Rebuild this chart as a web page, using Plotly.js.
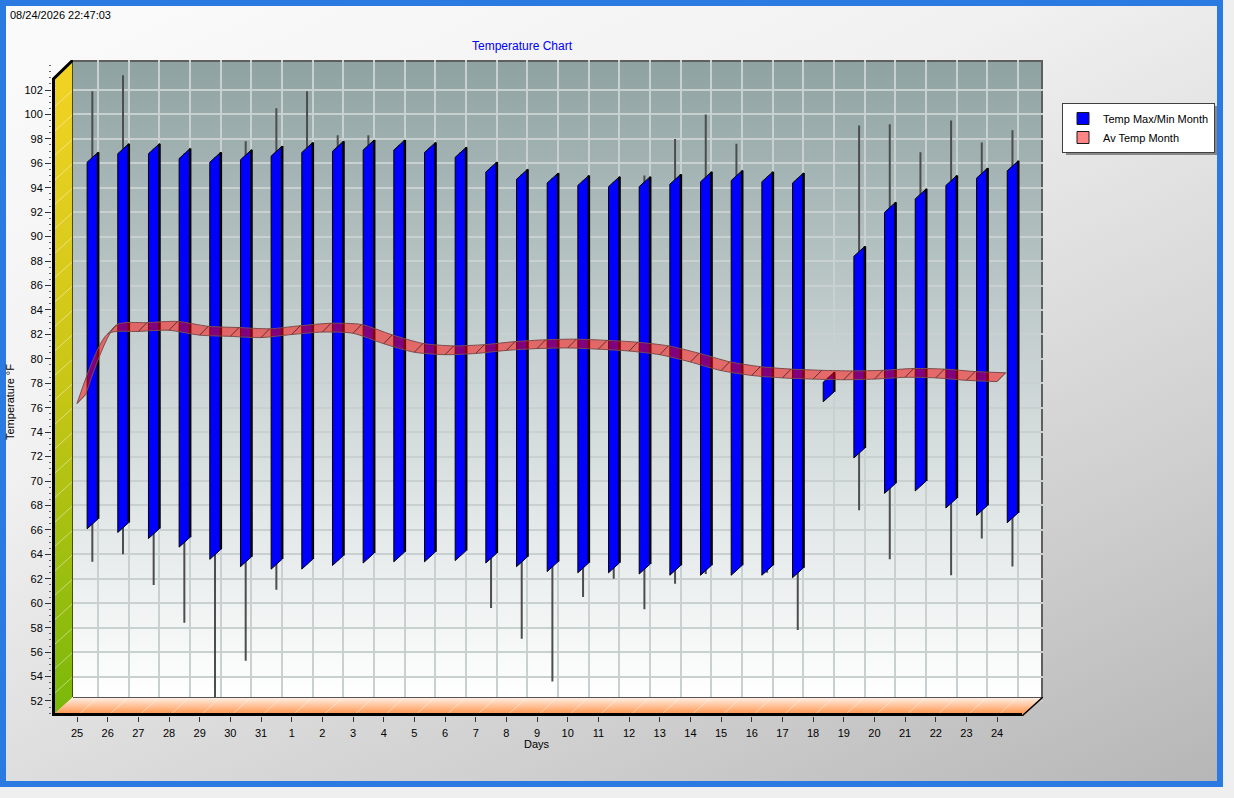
<!DOCTYPE html>
<html>
<head>
<meta charset="utf-8">
<script src="https://cdn.plot.ly/plotly-3.0.1.min.js"></script>
<style>
  body { margin: 0; background: #efefef; }
  #frame {
    position: absolute; left: 0; top: 0; width: 1211px; height: 775px;
    border: 6px solid #2a7ae2;
    background: linear-gradient(155deg, #fbfbfb 0%, #f1f1f1 35%, #cfcfcf 75%, #b6b6b6 100%);
  }
  #chart { position: absolute; left: 0; top: 0; width: 1234px; height: 798px; }
</style>
</head>
<body>
<div id="frame"></div>
<div id="chart"></div>
<script>
// days of the month window, oldest first
const days = ['25', '26', '27', '28', '29', '30', '31', '1', '2', '3', '4', '5', '6', '7', '8',
    '9', '10', '11', '12', '13', '14', '15', '16', '17', '18', '19', '20', '21', '22', '23', '24'];

// bar = monthly max / min, whisker = extreme max / min
const barMax = [96.5, 97.2, 97.2, 96.8, 96.5, 96.7, 97.0, 97.3, 97.4, 97.5, 97.5, 97.3, 96.9, 95.7, 95.1,
    94.8, 94.6, 94.5, 94.5, 94.7, 94.9, 95.0, 94.9, 94.8, 78.5, 88.8, 92.4, 93.5, 94.6, 95.2, 95.8];
const barMin = [66.5, 66.2, 65.7, 65.0, 64.0, 63.4, 63.2, 63.2, 63.5, 63.7, 63.8, 63.8, 63.9, 63.7, 63.4,
    63.0, 62.9, 62.9, 62.8, 62.7, 62.7, 62.7, 62.7, 62.5, 76.9, 72.3, 69.4, 69.6, 68.2, 67.6, 67.0];
const extMax = [101.9, 103.2, 97.2, 96.8, 96.5, 97.8, 100.5, 101.9, 98.3, 98.3, 97.5, 97.3, 96.9, 95.7, 95.1,
    94.8, 94.6, 94.5, 95.0, 98.0, 100.0, 97.6, 94.9, 94.8, 78.5, 99.1, 99.2, 96.9, 99.5, 97.7, 98.7];
const extMin = [63.4, 64.0, 61.5, 58.4, 52.3, 55.3, 61.1, 63.2, 63.5, 63.7, 63.8, 63.8, 63.9, 59.6, 57.1,
    53.6, 60.5, 62.0, 59.5, 61.6, 62.4, 62.7, 62.5, 57.8, 76.9, 67.6, 63.6, 69.6, 62.3, 65.3, 63.0];
const avgTemp = [76.7, 82.4, 82.6, 82.7, 82.3, 82.2, 82.1, 82.35, 82.55, 82.45, 81.6, 80.9, 80.7, 80.8, 81.05,
    81.2, 81.25, 81.15, 81.0, 80.7, 80.1, 79.4, 79.0, 78.8, 78.7, 78.65, 78.7, 78.85, 78.8, 78.6, 78.5];
const yTicks = [52, 54, 56, 58, 60, 62, 64, 66, 68, 70, 72, 74, 76, 78, 80, 82, 84, 86, 88, 90,
    92, 94, 96, 98, 100, 102];

// plot box in pixels (front-left corner to back-right), and the fake 3d depth
const L = 52, R = 1043, T = 60, B = 716;
const W = R - L, H = B - T;
const DEPTH_X = 21, DEPTH_Y = 19;
const X_RANGE = [-0.815, 31.496];
const Y_RANGE = [50.772, 104.455];

const xPx = (u) => L + (u - X_RANGE[0]) / (X_RANGE[1] - X_RANGE[0]) * W;
const yPx = (v) => T + (Y_RANGE[1] - v) / (Y_RANGE[1] - Y_RANGE[0]) * H;
const idx = days.map((d, i) => i);
const backGrid = idx.map(i => i + 0.685);

// bars are thin slanted panels
const BAR_L = 0.33, BAR_R = 0.69, BAR_SLANT = 0.41;
const barX = [], barY = [], edgeX = [], edgeY = [], whiskX = [], whiskY = [];
idx.forEach(i => {
    const xl = i + BAR_L, xr = i + BAR_R;
    barX.push(xl, xr, xr, xl, xl, null);
    barY.push(barMin[i] - BAR_SLANT, barMin[i] + BAR_SLANT, barMax[i] + BAR_SLANT,
        barMax[i] - BAR_SLANT, barMin[i] - BAR_SLANT, null);
    edgeX.push(xr, xr, null);
    edgeY.push(barMin[i] + BAR_SLANT, barMax[i] + BAR_SLANT, null);
    whiskX.push(i + 0.5, i + 0.5, null);
    whiskY.push(extMin[i], extMax[i], null);
});

// average as a ribbon: front edge and back edge
const AV_DX = 0.28, AV_DY = 0.36;
const avFrontX = idx.slice();
const avFrontY = avgTemp.map(v => v - AV_DY);
const avBackX = idx.map(i => i + AV_DX);
const avBackY = avgTemp.map(v => v + AV_DY);
const slantX = [], slantY = [];
idx.forEach(i => {
    slantX.push(avFrontX[i], avBackX[i], null);
    slantY.push(avFrontY[i], avBackY[i], null);
});

function svgSource(w, h, inner) {
    const svg = `<svg xmlns="http://www.w3.org/2000/svg" width="${w}" height="${h}" viewBox="0 0 ${w} ${h}" preserveAspectRatio="none">${inner}</svg>`;
    return 'data:image/svg+xml;charset=utf-8,' + encodeURIComponent(svg);
}

const backW = W - DEPTH_X, backH = H - DEPTH_Y;
const backWall = svgSource(backW, backH,
    '<defs><linearGradient id="g" x1="0" y1="0" x2="0" y2="1">' +
    '<stop offset="0" stop-color="#8fa2a2"/><stop offset="0.45" stop-color="#c6d0d0"/>' +
    '<stop offset="0.78" stop-color="#e8ecec"/><stop offset="1" stop-color="#ffffff"/></linearGradient></defs>' +
    `<rect width="${backW}" height="${backH}" fill="url(#g)"/>` +
    `<path d="M0,1H${backW - 1}V${backH}" fill="none" stroke="#5f5f5f" stroke-width="2"/>`);

let wallLines = '';
yTicks.forEach(v => {
    const yb = yPx(v) - T, yf = yb + DEPTH_Y;
    if (yf <= H) {
        wallLines += `<line x1="0" y1="${yf}" x2="${DEPTH_X}" y2="${yb}" stroke="rgba(255,255,255,0.45)" stroke-width="1"/>`;
    }
});
const leftWall = svgSource(DEPTH_X, H,
    '<defs><linearGradient id="g" x1="0" y1="0" x2="0" y2="1">' +
    '<stop offset="0" stop-color="#f3d324"/><stop offset="0.5" stop-color="#c8c616"/>' +
    '<stop offset="1" stop-color="#79b80a"/></linearGradient></defs>' +
    `<polygon points="0,${DEPTH_Y} ${DEPTH_X},0 ${DEPTH_X},${backH} 0,${H}" fill="url(#g)"/>` + wallLines +
    `<line x1="${DEPTH_X - 0.5}" y1="0" x2="${DEPTH_X - 0.5}" y2="${backH}" stroke="#4a4a18" stroke-width="1"/>` +
    `<path d="M1.5,${H}V${DEPTH_Y}L${DEPTH_X},0" fill="none" stroke="#000" stroke-width="3"/>`);

let floorLines = '';
idx.forEach(i => {
    const fx = xPx(i) - L, bx = xPx(backGrid[i]) - L;
    floorLines += `<line x1="${fx}" y1="${DEPTH_Y}" x2="${bx}" y2="0" stroke="rgba(255,255,255,0.45)" stroke-width="1"/>`;
});
const floor = svgSource(W, DEPTH_Y,
    '<defs><linearGradient id="g" x1="0" y1="0" x2="0" y2="1">' +
    '<stop offset="0" stop-color="#fff3ea"/><stop offset="1" stop-color="#ff8a3c"/></linearGradient></defs>' +
    `<polygon points="0,${DEPTH_Y} ${DEPTH_X},0 ${W},0 ${W - DEPTH_X},${DEPTH_Y}" fill="url(#g)"/>` + floorLines +
    `<line x1="${DEPTH_X}" y1="0.5" x2="${W}" y2="0.5" stroke="#555" stroke-width="1"/>` +
    `<line x1="0" y1="${DEPTH_Y - 1.5}" x2="${W - DEPTH_X}" y2="${DEPTH_Y - 1.5}" stroke="#000" stroke-width="3"/>` +
    `<line x1="${W - DEPTH_X}" y1="${DEPTH_Y}" x2="${W}" y2="0" stroke="#000" stroke-width="1.5"/>`);

const px2paperX = (px) => (px - L) / W;
const px2paperY = (py) => (B - py) / H;

const traces = [
    {
        type: 'scatter', mode: 'lines', x: whiskX, y: whiskY,
        line: {color: '#4d4d4d', width: 2}, showlegend: false, hoverinfo: 'skip'
    },
    {
        type: 'scatter', mode: 'lines', x: barX, y: barY, fill: 'toself', fillcolor: '#0000ff',
        line: {color: '#000000', width: 1}, showlegend: false, hoverinfo: 'skip'
    },
    {
        type: 'scatter', mode: 'lines', x: edgeX, y: edgeY,
        line: {color: '#000000', width: 2.5}, showlegend: false, hoverinfo: 'skip'
    },
    {
        type: 'scatter', mode: 'lines', x: avFrontX, y: avFrontY,
        line: {color: '#7d4b4b', width: 1, shape: 'spline', smoothing: 0.7}, showlegend: false, hoverinfo: 'skip'
    },
    {
        type: 'scatter', mode: 'lines', x: avBackX, y: avBackY, fill: 'tonexty', fillcolor: 'rgba(255,0,0,0.5)',
        line: {color: '#7d4b4b', width: 1, shape: 'spline', smoothing: 0.7}, showlegend: false, hoverinfo: 'skip'
    },
    {
        type: 'scatter', mode: 'lines', x: slantX, y: slantY,
        line: {color: '#5e3030', width: 1}, showlegend: false, hoverinfo: 'skip'
    },
    // legend entries only
    {
        type: 'bar', x: [null], y: [null], name: 'Temp Max/Min Month',
        marker: {color: '#0000ff', line: {color: '#1a1a1a', width: 1}}
    },
    {
        type: 'bar', x: [null], y: [null], name: 'Av Temp Month',
        marker: {color: '#ff8484', line: {color: '#1a1a1a', width: 1}}
    },
];

const layout = {
    width: 1234,
    height: 798,
    margin: {l: L, r: 1234 - R, t: T, b: 798 - B, pad: 0},
    paper_bgcolor: 'rgba(0,0,0,0)',
    plot_bgcolor: 'rgba(0,0,0,0)',
    font: {family: 'Liberation Sans, Arial, sans-serif', size: 11, color: '#000'},
    title: {
        text: 'Temperature Chart',
        x: 522 / 1234, xanchor: 'center',
        y: 1 - 46 / 798, yanchor: 'middle',
        font: {size: 12, color: '#0000ff'}
    },
    xaxis: {
        type: 'linear',
        range: X_RANGE,
        tickmode: 'array',
        tickvals: idx,
        ticktext: days,
        ticks: 'outside',
        ticklen: 5,
        tickcolor: '#333',
        ticklabelstandoff: 2,
        showgrid: false,
        zeroline: false,
        showline: false,
        fixedrange: true,
        minor: {
            tickmode: 'array',
            tickvals: backGrid,
            ticks: '',
            showgrid: true,
            gridcolor: '#c9d0d0',
            gridwidth: 2
        }
    },
    yaxis: {
        range: Y_RANGE,
        tickmode: 'array',
        tickvals: yTicks,
        ticks: 'outside',
        ticklen: 6,
        tickcolor: '#333',
        showgrid: true,
        gridcolor: '#c9d0d0',
        gridwidth: 2,
        zeroline: false,
        showline: false,
        fixedrange: true,
        minor: {tickmode: 'linear', tick0: 52, dtick: 0.5, ticks: 'outside', ticklen: 2, tickcolor: '#666', showgrid: false}
    },
    legend: {
        x: px2paperX(1062), y: px2paperY(103),
        xanchor: 'left', yanchor: 'top',
        traceorder: 'normal',
        bgcolor: '#ffffff',
        bordercolor: '#404040',
        borderwidth: 1,
        font: {size: 11}
    },
    shapes: [
        // drop shadow under the legend box
        {
            type: 'rect', xref: 'paper', yref: 'paper', layer: 'above',
            x0: px2paperX(1066), x1: px2paperX(1217), y0: px2paperY(106), y1: px2paperY(155),
            fillcolor: 'rgba(60,60,60,0.55)', line: {width: 0}
        }
    ],
    annotations: [
        {
            text: '08/24/2026 22:47:03', xref: 'paper', yref: 'paper',
            x: px2paperX(8), y: px2paperY(15), xanchor: 'left', yanchor: 'middle', showarrow: false
        },
        {
            text: 'Days', xref: 'paper', yref: 'paper',
            x: px2paperX(537), y: px2paperY(744), xanchor: 'center', yanchor: 'middle', showarrow: false
        },
        {
            text: 'Temperature °F', xref: 'paper', yref: 'paper', textangle: -90,
            x: px2paperX(10), y: px2paperY(402), xanchor: 'center', yanchor: 'middle', showarrow: false
        }
    ],
    images: [
        {
            source: backWall, xref: 'paper', yref: 'paper',
            x: DEPTH_X / W, y: 1, sizex: backW / W, sizey: backH / H,
            xanchor: 'left', yanchor: 'top', sizing: 'stretch', layer: 'below'
        },
        {
            source: leftWall, xref: 'paper', yref: 'paper',
            x: 0, y: 1, sizex: DEPTH_X / W, sizey: 1,
            xanchor: 'left', yanchor: 'top', sizing: 'stretch', layer: 'above'
        },
        {
            source: floor, xref: 'paper', yref: 'paper',
            x: 0, y: DEPTH_Y / H, sizex: 1, sizey: DEPTH_Y / H,
            xanchor: 'left', yanchor: 'top', sizing: 'stretch', layer: 'above'
        }
    ]
};

Plotly.newPlot('chart', traces, layout, {displayModeBar: false, staticPlot: true});
</script>
</body>
</html>
